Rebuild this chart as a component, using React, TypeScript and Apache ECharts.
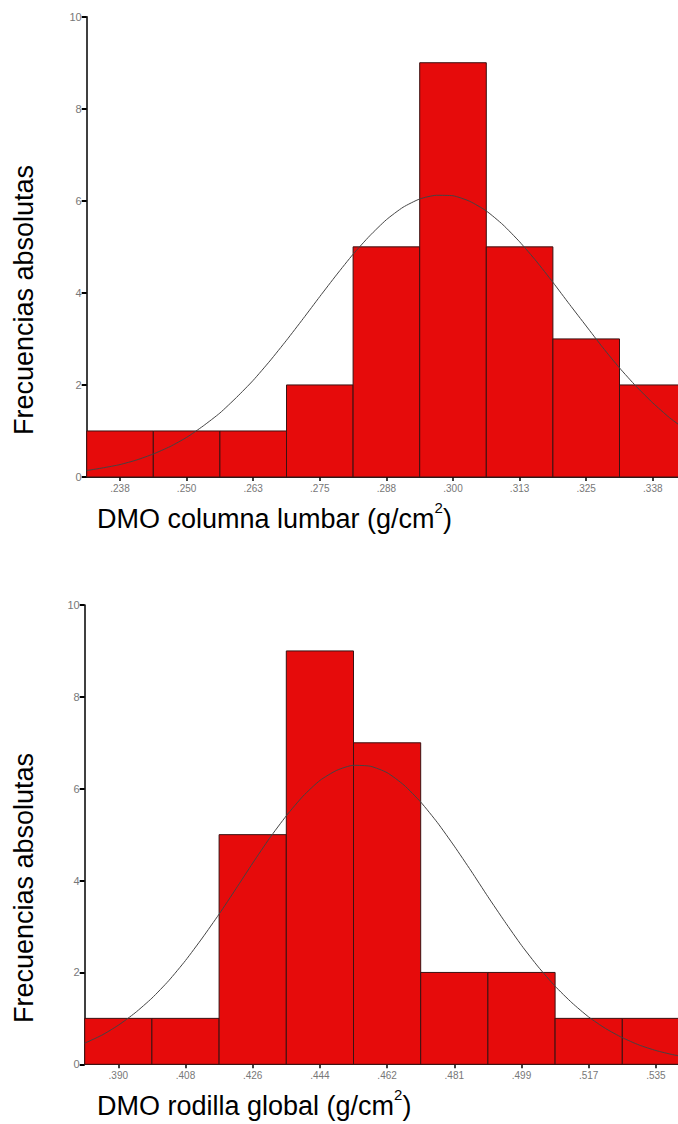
import React, { useEffect, useRef } from "react";
import * as echarts from "echarts";

// ---- Data ----
const lumbarLabels = [".238", ".250", ".263", ".275", ".288", ".300", ".313", ".325", ".338"];
const lumbarCounts = [1, 1, 1, 2, 5, 9, 5, 3, 2];
// normal curve, x in bin-index units (bin i centered at i)
const curveX = [
  -0.5, -0.25, 0, 0.25, 0.5, 0.75, 1, 1.25, 1.5, 1.75, 2, 2.25, 2.5, 2.75, 3, 3.25, 3.5, 3.75, 4,
  4.25, 4.5, 4.75, 5, 5.25, 5.5, 5.75, 6, 6.25, 6.5, 6.75, 7, 7.25, 7.5, 7.75, 8, 8.25, 8.5,
];
const lumbarCurveY = [
  0.14, 0.2, 0.27, 0.37, 0.5, 0.66, 0.86, 1.11, 1.39, 1.73, 2.1, 2.52, 2.97, 3.44, 3.92, 4.39, 4.84, 5.24, 5.59,
  5.86, 6.04, 6.12, 6.11, 5.99, 5.78, 5.48, 5.11, 4.69, 4.23, 3.75, 3.28, 2.81, 2.37, 1.97, 1.61, 1.29, 1.02,
];

const kneeLabels = [".390", ".408", ".426", ".444", ".462", ".481", ".499", ".517", ".535"];
const kneeCounts = [1, 1, 5, 9, 7, 2, 2, 1, 1];
const kneeCurveY = [
  0.46, 0.63, 0.85, 1.12, 1.44, 1.82, 2.26, 2.75, 3.27, 3.82, 4.38, 4.92, 5.41, 5.84, 6.18, 6.4, 6.51, 6.49, 6.35,
  6.08, 5.71, 5.26, 4.75, 4.21, 3.65, 3.11, 2.59, 2.12, 1.7, 1.34, 1.03, 0.78, 0.58, 0.42, 0.3, 0.21, 0.14,
];

const yTitle = "Frecuencias absolutas";
const xTitleTop = ["DMO columna lumbar (g/cm", "2", ")"];
const xTitleBottom = ["DMO rodilla global (g/cm", "2", ")"];

const FONT = "'Liberation Sans', Arial, sans-serif";
const binIdx = [0, 1, 2, 3, 4, 5, 6, 7, 8];

function xAxisFor(gridIndex: number, labels: string[]) {
  return {
    type: "value",
    gridIndex,
    min: -0.5,
    max: 8.5,
    axisLine: { show: true, onZero: false, lineStyle: { color: "#222", width: 1 } },
    axisTick: { show: true, customValues: binIdx, length: 4, lineStyle: { color: "#000", width: 1.5 } },
    axisLabel: {
      show: true,
      customValues: binIdx,
      formatter: (v: number) => labels[Math.round(v)] ?? "",
      fontSize: 10,
      color: "#777",
      fontFamily: FONT,
      margin: 6,
    },
    splitLine: { show: false },
  };
}

function yAxisFor(gridIndex: number) {
  return {
    type: "value",
    gridIndex,
    min: 0,
    max: 10,
    interval: 2,
    axisLine: { show: true, onZero: false, lineStyle: { color: "#000", width: 1.5 } },
    axisTick: { show: true, length: 5, lineStyle: { color: "#000", width: 2 } },
    axisLabel: { fontSize: 11, color: "#777", fontFamily: FONT, margin: 5 },
    splitLine: { show: false },
  };
}

function barSeries(idx: number, counts: number[]) {
  return {
    type: "custom",
    xAxisIndex: idx,
    yAxisIndex: idx,
    data: counts.map((c, i) => [i, c]),
    encode: { x: 0, y: 1 },
    z: 2,
    renderItem: (params: any, api: any) => {
      const i = api.value(0);
      const c = api.value(1);
      const p0 = api.coord([i - 0.5, c]);
      const p1 = api.coord([i + 0.5, 0]);
      return {
        type: "rect",
        shape: { x: p0[0], y: p0[1], width: p1[0] - p0[0], height: p1[1] - p0[1] },
        style: { fill: "#e60b0b", stroke: "#3a1212", lineWidth: 1 },
      };
    },
  };
}

function curveSeries(idx: number, xs: number[], ys: number[]) {
  return {
    type: "line",
    xAxisIndex: idx,
    yAxisIndex: idx,
    data: xs.map((x, i) => [x, ys[i]]),
    smooth: 0.2,
    showSymbol: false,
    symbol: "none",
    z: 5,
    lineStyle: { color: "#444", width: 1 },
  };
}

function xTitle(parts: string[], x: number, y: number) {
  return {
    type: "text",
    x,
    y,
    style: {
      text: `{a|${parts[0]}}{s|${parts[1]}}{a|${parts[2]}}`,
      textAlign: "left",
      textVerticalAlign: "middle",
      rich: {
        a: { fontSize: 27, fontFamily: FONT, fill: "#000", color: "#000", lineHeight: 32, verticalAlign: "bottom" },
        s: { fontSize: 15, fontFamily: FONT, fill: "#000", color: "#000", lineHeight: 32, verticalAlign: "top" },
      },
    },
  };
}

export default function App() {
  const ref = useRef<HTMLDivElement>(null);
  useEffect(() => {
    if (!ref.current) return;
    const chart = echarts.init(ref.current, undefined, { renderer: "svg" });
    chart.setOption({
      animation: false,
      backgroundColor: "#fff",
      grid: [
        { left: 86.7, top: 16.7, width: 599.4, height: 460.3 },
        { left: 84.7, top: 605, width: 604.8, height: 459.3 },
      ],
      xAxis: [xAxisFor(0, lumbarLabels), xAxisFor(1, kneeLabels)],
      yAxis: [yAxisFor(0), yAxisFor(1)],
      series: [
        barSeries(0, lumbarCounts),
        curveSeries(0, curveX, lumbarCurveY),
        barSeries(1, kneeCounts),
        curveSeries(1, curveX, kneeCurveY),
      ],
      graphic: [
        {
          type: "text",
          x: 24,
          y: 300,
          rotation: Math.PI / 2,
          style: { text: yTitle, fontSize: 27, fontFamily: FONT, fill: "#000", textAlign: "center", textVerticalAlign: "middle" },
        },
        {
          type: "text",
          x: 24,
          y: 888,
          rotation: Math.PI / 2,
          style: { text: yTitle, fontSize: 27, fontFamily: FONT, fill: "#000", textAlign: "center", textVerticalAlign: "middle" },
        },
        xTitle(xTitleTop, 97, 516),
        xTitle(xTitleBottom, 97, 1103),
      ],
    });
    return () => chart.dispose();
  }, []);
  return (
    <div style={{ position: "fixed", left: 0, top: 0, width: 678, height: 1124, overflow: "hidden", background: "#fff" }}>
      <div ref={ref} style={{ width: 700, height: 1124 }} />
    </div>
  );
}
